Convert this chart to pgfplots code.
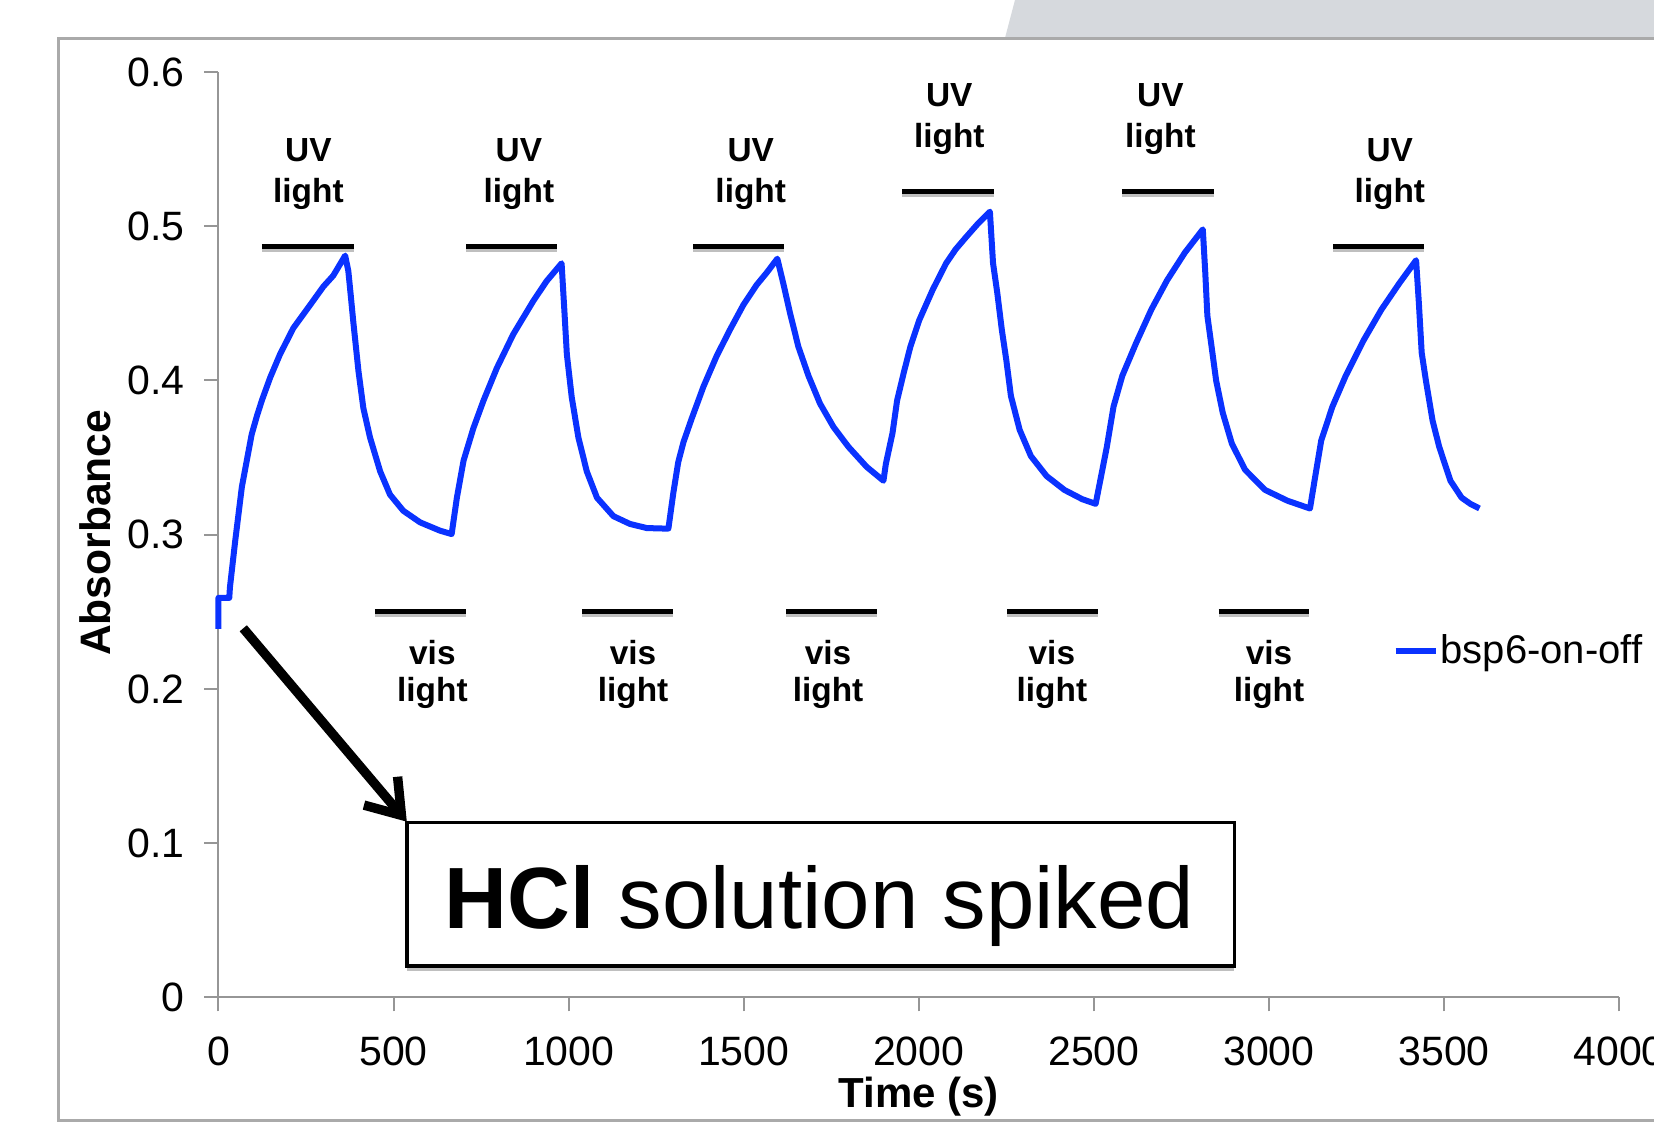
\documentclass[border=0pt]{standalone}
\usepackage{fontspec}
\setmainfont{Liberation Sans}
\usepackage{pgfplots}
\usepackage{pgfplotstable}
\pgfplotsset{compat=1.18}
\usetikzlibrary{arrows.meta}
\definecolor{curveblue}{RGB}{10,50,255}
\definecolor{framegray}{RGB}{170,170,170}
\definecolor{bggray}{RGB}{214,217,221}
\definecolor{axisgray}{RGB}{150,150,150}
\newcommand\lbl{\bfseries\fontsize{16.7}{19}\selectfont}
\tikzset{lightbar/.style={line width=2.5pt, preaction={draw, black!25, line width=3pt, transform canvas={yshift=-1.3pt}}}}

\pgfplotstableread{
t y
0 0.239
0 0.259
31 0.259
33 0.266
48 0.296
67 0.331
81 0.348
95 0.365
110 0.377
124 0.387
148 0.402
176 0.417
214 0.434
262 0.449
300 0.461
328 0.468
362 0.481
371 0.471
378 0.455
385 0.4385
400 0.406
414 0.382
433 0.363
462 0.341
490 0.326
528 0.3155
576 0.308
633 0.3026
666 0.3004
681 0.324
700 0.348
728 0.369
757 0.387
795 0.408
842 0.430
899 0.4515
937 0.4644
980 0.476
988 0.445
995 0.417
1009 0.389
1028 0.363
1052 0.341
1081 0.324
1128 0.312
1175 0.307
1223 0.3043
1270 0.304
1285 0.304
1299 0.327
1313 0.347
1328 0.360
1351 0.375
1385 0.396
1423 0.416
1461 0.433
1499 0.449
1537 0.462
1566 0.470
1596 0.479
1613 0.463
1632 0.444
1656 0.422
1685 0.403
1718 0.385
1756 0.370
1799 0.357
1851 0.344
1899 0.335
1906 0.346
1925 0.366
1938 0.387
1957 0.405
1976 0.422
2001 0.439
2040 0.459
2078 0.476
2105 0.485
2135 0.493
2170 0.502
2203 0.5095
2212 0.476
2224 0.457
2237 0.433
2250 0.413
2263 0.390
2288 0.368
2320 0.351
2365 0.338
2416 0.329
2467 0.323
2505 0.320
2518 0.335
2537 0.357
2556 0.383
2581 0.403
2620 0.424
2664 0.446
2709 0.465
2760 0.483
2811 0.498
2818 0.470
2824 0.442
2836 0.422
2849 0.400
2868 0.379
2894 0.359
2932 0.342
2989 0.329
3053 0.322
3117 0.317
3130 0.335
3149 0.361
3181 0.383
3219 0.403
3270 0.426
3321 0.446
3372 0.463
3420 0.478
3428 0.450
3436 0.418
3448 0.400
3467 0.374
3486 0.357
3518 0.335
3550 0.324
3575 0.320
3601 0.317
}\datatable

\begin{document}
\begin{tikzpicture}
\useasboundingbox (0,0) rectangle (827pt,562pt);
\clip (0,0) rectangle (827pt,562pt);
\fill[white] (0,0) rectangle (827pt,562pt);
\fill[bggray] (507.5pt,562pt) -- (827pt,562pt) -- (827pt,543pt) -- (502.5pt,543pt) -- cycle;
\draw[framegray, line width=1.5pt] (29pt,1.5pt) rectangle (860pt,542.5pt);
\begin{axis}[
  at={(109.2pt,63.35pt)}, anchor=south west,
  scale only axis, width=700.4pt, height=462.6pt,
  xmin=0, xmax=4000, ymin=0, ymax=0.6,
  clip=false,
  axis lines=left,
  axis line style={-, draw=axisgray, line width=1pt},
  xtick={0,500,...,4000},
  ytick={0,0.1,0.2,0.3,0.4,0.5,0.6},
  tick align=outside,
  major tick length=7pt,
  tick style={axisgray, line width=1pt},
  /pgf/number format/.cd, fixed, 1000 sep={}, assume math mode=true,
  /pgfplots/.cd,
  ticklabel style={font=\fontsize{20.5}{24}\selectfont},
  xticklabel style={yshift=-9.5pt},
  yticklabel style={xshift=-6.5pt},
  xlabel={Time (s)},
  xlabel style={at={(axis description cs:0.5,-0.1077)}, anchor=center, font=\bfseries\fontsize{21}{25}\selectfont},
  ylabel={Absorbance},
  ylabel style={at={(axis description cs:-0.0881,0.502)}, anchor=center, font=\bfseries\fontsize{21.3}{25}\selectfont},
  legend style={at={(axis description cs:0.8380,0.3745)}, anchor=west, draw=none, fill=none, inner sep=0pt,
    font=\fontsize{20}{24}\selectfont, nodes={inner sep=1pt}},
  legend image code/.code={\draw[#1] (0pt,0pt) -- (20pt,0pt);},
]
\addplot[curveblue, line width=3pt, line join=round] table[x=t,y=y]{\datatable};
\addlegendentry{bsp6-on-off}

% UV bars
\draw[lightbar] (axis cs:124,0.4868) -- (axis cs:386,0.4868);
\draw[lightbar] (axis cs:708,0.4868) -- (axis cs:967,0.4868);
\draw[lightbar] (axis cs:1356,0.4868) -- (axis cs:1616,0.4868);
\draw[lightbar] (axis cs:1953,0.5224) -- (axis cs:2215,0.5224);
\draw[lightbar] (axis cs:2580,0.5224) -- (axis cs:2842,0.5224);
\draw[lightbar] (axis cs:3184,0.4868) -- (axis cs:3443,0.4868);
\node[anchor=base, font=\lbl] at (axis cs:257,0.5419) {UV};
\node[anchor=base, font=\lbl] at (axis cs:257,0.5156) {light};
\node[anchor=base, font=\lbl] at (axis cs:858,0.5419) {UV};
\node[anchor=base, font=\lbl] at (axis cs:858,0.5156) {light};
\node[anchor=base, font=\lbl] at (axis cs:1520,0.5419) {UV};
\node[anchor=base, font=\lbl] at (axis cs:1520,0.5156) {light};
\node[anchor=base, font=\lbl] at (axis cs:2087,0.5776) {UV};
\node[anchor=base, font=\lbl] at (axis cs:2087,0.5512) {light};
\node[anchor=base, font=\lbl] at (axis cs:2690,0.5776) {UV};
\node[anchor=base, font=\lbl] at (axis cs:2690,0.5512) {light};
\node[anchor=base, font=\lbl] at (axis cs:3345,0.5419) {UV};
\node[anchor=base, font=\lbl] at (axis cs:3345,0.5156) {light};

% vis bars
\draw[lightbar] (axis cs:447,0.2501) -- (axis cs:707,0.2501);
\draw[lightbar] (axis cs:1039,0.2501) -- (axis cs:1298,0.2501);
\draw[lightbar] (axis cs:1621,0.2501) -- (axis cs:1880,0.2501);
\draw[lightbar] (axis cs:2253,0.2501) -- (axis cs:2512,0.2501);
\draw[lightbar] (axis cs:2856,0.2501) -- (axis cs:3115,0.2501);
\node[anchor=base, font=\lbl] at (axis cs:611,0.2155) {vis};
\node[anchor=base, font=\lbl] at (axis cs:611,0.1917) {light};
\node[anchor=base, font=\lbl] at (axis cs:1184,0.2155) {vis};
\node[anchor=base, font=\lbl] at (axis cs:1184,0.1917) {light};
\node[anchor=base, font=\lbl] at (axis cs:1741,0.2155) {vis};
\node[anchor=base, font=\lbl] at (axis cs:1741,0.1917) {light};
\node[anchor=base, font=\lbl] at (axis cs:2380,0.2155) {vis};
\node[anchor=base, font=\lbl] at (axis cs:2380,0.1917) {light};
\node[anchor=base, font=\lbl] at (axis cs:3000,0.2155) {vis};
\node[anchor=base, font=\lbl] at (axis cs:3000,0.1917) {light};

% HCl box and arrow
\draw[black!25, line width=2pt, transform canvas={yshift=-1.3pt}] (axis cs:539,0.0202) -- (axis cs:2901,0.0202);
\draw[line width=1.7pt] (axis cs:539,0.0202) rectangle (axis cs:2901,0.1132);
\node[anchor=base west, font=\fontsize{43.5}{50}\selectfont, inner sep=0pt] at (axis cs:645,0.0449) {\textbf{HCl} solution spiked};
\draw[line width=4.7pt, -{Straight Barb[length=16pt,width=22pt]}] (axis cs:71,0.2393) -- (axis cs:538,0.1139);
\end{axis}
\end{tikzpicture}
\end{document}
